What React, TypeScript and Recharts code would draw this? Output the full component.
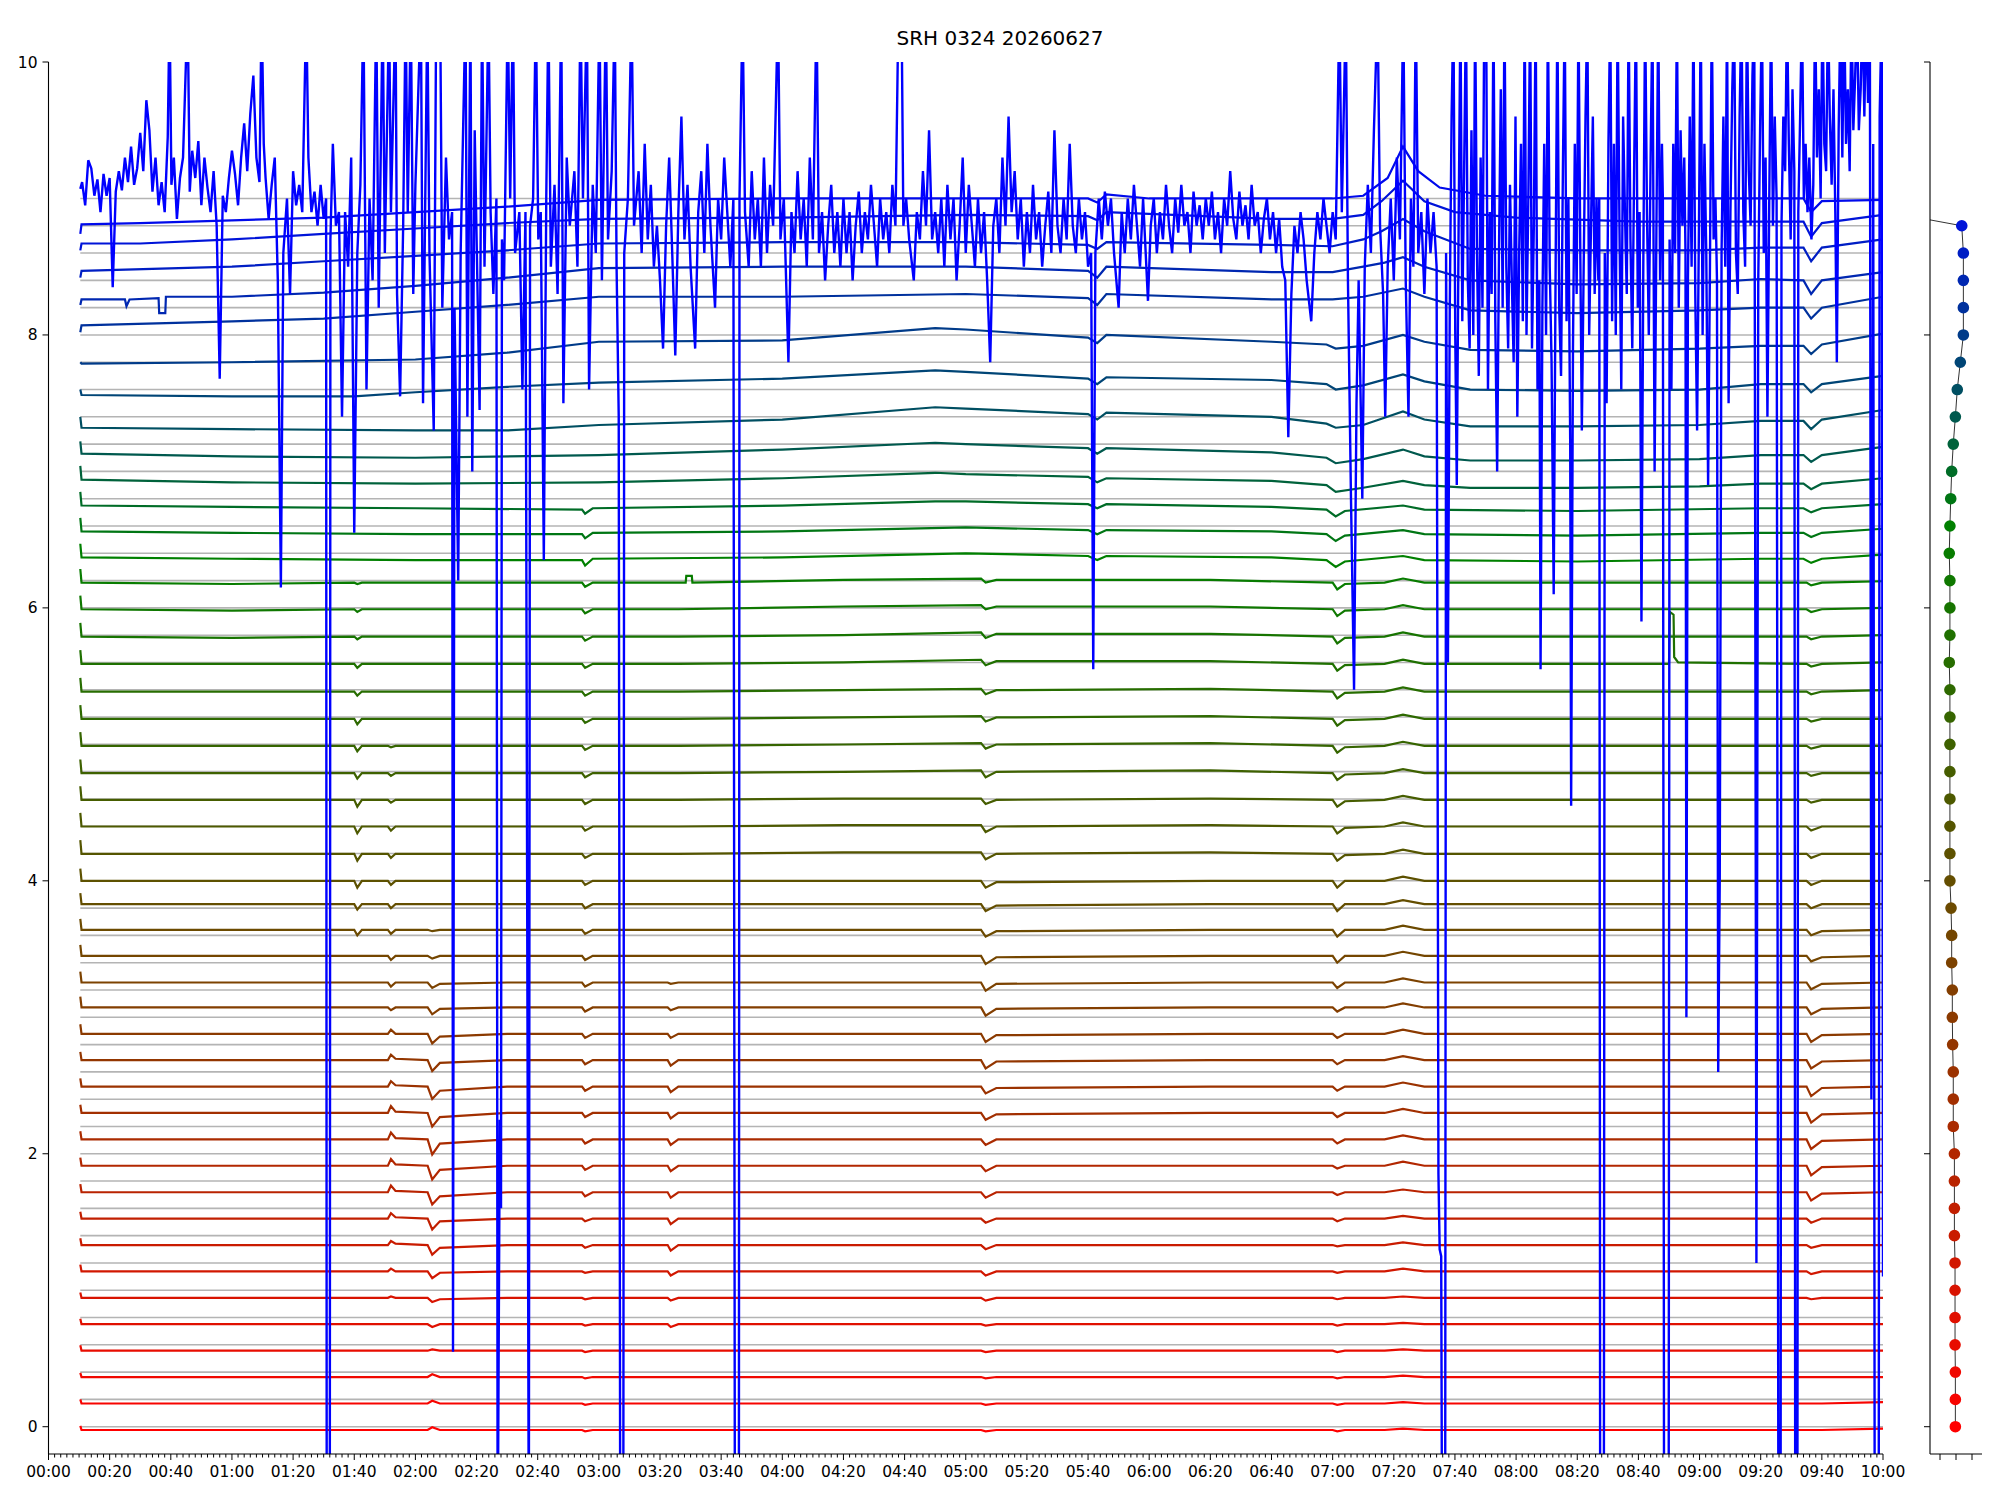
import React from 'react';
import { LineChart, Line, XAxis, YAxis, ReferenceLine, ComposedChart, Scatter, Cell, ZAxis } from 'recharts';

const FONT = '"DejaVu Sans", sans-serif';
const TITLE = 'SRH 0324 20260627';

const MAJOR_TICKS = [0, 20, 40, 60, 80, 100, 120, 140, 160, 180, 200, 220, 240, 260, 280, 300, 320, 340, 360, 380, 400, 420, 440, 460, 480, 500, 520, 540, 560, 580, 600];
const MAJOR_LABELS = ['00:00', '00:20', '00:40', '01:00', '01:20', '01:40', '02:00', '02:20', '02:40', '03:00', '03:20', '03:40', '04:00', '04:20', '04:40', '05:00', '05:20', '05:40', '06:00', '06:20', '06:40', '07:00', '07:20', '07:40', '08:00', '08:20', '08:40', '09:00', '09:20', '09:40', '10:00'];
const Y_TICKS = [0, 2, 4, 6, 8, 10];
const GRID_LEVELS = [0, 0.2, 0.4, 0.6, 0.8, 1.0, 1.2, 1.4, 1.6, 1.8, 2.0, 2.2, 2.4, 2.6, 2.8, 3.0, 3.2, 3.4, 3.6, 3.8, 4.0, 4.2, 4.4, 4.6, 4.8, 5.0, 5.2, 5.4, 5.6, 5.8, 6.0, 6.2, 6.4, 6.6, 6.8, 7.0, 7.2, 7.4, 7.6, 7.8, 8.0, 8.2, 8.4, 8.6, 8.8, 9.0];
const GRID_START = 10.4;
const GRID_END = 600;

// shared knot times (minutes) for the lower traces
const KNOTS = [10.4, 10.8, 60, 100, 101, 102.5, 111, 112, 113.5, 124, 125.5, 128, 150, 174.5, 175.5, 178, 202.5, 203.5, 206, 260, 305, 306.5, 310, 380, 420, 421.5, 424, 437, 443, 450, 500, 575, 576.5, 580, 600];
// level of each lower trace
const LOWER_BASE = [-0.024, 0.17, 0.364, 0.557, 0.751, 0.944, 1.138, 1.331, 1.525, 1.718, 1.912, 2.105, 2.299, 2.492, 2.686, 2.879, 3.072, 3.255, 3.45, 3.641, 3.829, 4.0, 4.198, 4.398, 4.593, 4.789, 4.989, 5.187, 5.387, 5.59, 5.79, 5.99, 6.185];
// deviations from the level, in hundredths, at each knot
const L00 = [3,0,0,0,0,0,0,0,0,0,2,0,0,0,-1,0,0,0,0,0,0,-1,0,0,0,-1,0,0,1,0,0,0,0,0,1];
const L01 = [3,0,0,0,0,0,0,0,0,0,2,0,0,0,-1,0,0,0,0,0,0,-1,0,0,0,-1,0,0,1,0,0,0,0,0,1];
const L02 = [3,0,0,0,0,0,0,0,0,0,2,0,0,0,-1,0,0,0,0,0,0,-1,0,0,0,-1,0,0,1,0,0,0,0,0,0];
const L03 = [4,0,0,0,0,0,0,0,0,0,1,0,0,0,-1,0,0,0,0,0,0,-1,0,0,0,-1,0,0,1,0,0,0,0,0,0];
const L04 = [4,0,0,0,0,0,0,0,0,0,-2,0,0,0,-1,0,0,-2,0,0,0,-1,0,0,0,-1,0,0,1,0,0,0,0,0,0];
const L05 = [4,0,0,0,0,0,0,1,0,0,-3,-1,0,0,-1,0,0,-2,0,0,0,-2,0,0,0,-1,0,0,1,0,0,0,-1,0,0];
const L06 = [5,0,0,0,0,0,0,2,0,0,-5,-1,0,0,-1,0,0,-3,0,0,0,-3,0,0,0,-1,0,0,2,0,0,0,-2,0,0];
const L07 = [5,0,0,0,0,0,0,3,1,0,-7,-2,0,0,-2,0,0,-4,0,0,0,-3,0,0,0,-1,0,0,2,0,0,0,-2,0,0];
const L08 = [5,0,0,0,0,0,0,4,1,0,-8,-2,0,0,-2,0,0,-4,0,0,0,-3,0,0,0,-2,0,0,2,0,0,0,-3,0,0];
const L09 = [6,0,0,0,0,0,0,5,1,0,-9,-3,0,0,-3,0,0,-4,0,0,0,-4,0,0,0,-2,0,0,2,0,0,0,-6,-1,0];
const L10 = [6,0,0,0,0,0,0,5,1,0,-10,-3,0,0,-3,0,0,-4,0,0,0,-4,0,0,0,-2,0,0,3,0,0,0,-7,-1,0];
const L11 = [6,0,0,0,0,0,0,5,1,0,-11,-3,0,0,-3,0,0,-4,0,0,0,-4,0,0,0,-3,0,0,3,0,0,0,-7,-1,0];
const L12 = [6,0,0,0,0,0,0,5,1,0,-10,-3,0,0,-3,0,0,-4,0,0,0,-5,-1,0,0,-3,0,0,3,0,0,0,-7,-1,0];
const L13 = [6,0,0,0,0,0,0,4,1,0,-9,-3,0,0,-3,0,0,-4,0,0,0,-5,-1,0,0,-3,0,0,3,0,0,0,-7,-1,0];
const L14 = [6,0,0,0,0,0,0,4,1,0,-8,-2,0,0,-3,0,0,-4,0,0,0,-6,-1,0,0,-3,0,0,3,0,0,0,-6,-1,0];
const L15 = [7,0,0,0,0,0,0,3,0,0,-7,-2,0,0,-3,0,0,-3,0,0,0,-6,-1,0,0,-3,0,0,3,0,0,0,-6,-1,0];
const L16 = [8,0,0,0,0,0,0,-2,0,0,-5,-1,0,0,-3,0,0,-2,0,0,0,-6,-1,0,0,-3,0,0,3,0,0,0,-5,-1,0];
const L17 = [8,0,0,0,0,0,0,-3,0,0,-4,-1,0,0,-3,0,0,-1,0,0,0,-6,-1,0,0,-4,0,0,3,0,0,0,-5,-1,0];
const L18 = [8,0,0,0,0,0,0,-3,0,0,-2,0,0,0,-3,0,0,0,0,0,0,-6,-1,0,0,-5,0,0,3,0,0,0,-4,-1,0];
const L19 = [8,0,0,0,-4,0,0,-3,0,0,-1,0,0,0,-3,0,0,0,0,0,0,-5,-1,0,0,-5,0,0,3,0,0,0,-4,-1,0];
const L20 = [8,0,0,0,-4,0,0,-3,0,0,0,0,0,0,-3,0,0,0,0,0,0,-5,-1,0,0,-5,0,0,3,0,0,0,-3,0,0];
const L21 = [9,0,0,0,-5,0,0,-3,0,0,0,0,0,0,-3,0,0,0,0,0,0,-5,-1,0,0,-5,0,0,3,0,0,0,-3,0,0];
const L22 = [10,0,0,0,-5,0,0,-3,0,0,0,0,0,0,-3,0,0,0,0,1,1,-4,0,1,0,-5,-1,0,3,0,0,0,-3,0,0];
const L23 = [10,0,0,0,-5,0,0,-3,0,0,0,0,0,0,-3,0,0,0,0,1,1,-4,0,1,0,-5,-1,0,3,0,0,0,-3,0,0];
const L24 = [10,0,0,0,-5,0,0,-2,0,0,0,0,0,0,-3,0,0,0,0,1,1,-3,0,1,0,-5,-1,0,3,0,0,0,-2,0,0];
const L25 = [10,0,0,0,-4,0,0,-2,0,0,0,0,0,0,-3,0,0,0,0,1,2,-3,1,2,0,-5,-1,0,3,0,0,0,-2,0,0];
const L26 = [10,0,0,0,-4,0,0,-1,0,0,0,0,0,0,-3,0,0,0,0,1,2,-2,1,2,0,-5,-1,0,3,0,0,0,-2,0,0];
const L27 = [10,0,0,0,-4,0,0,0,0,0,0,0,0,0,-3,0,0,0,0,1,2,-2,1,2,0,-5,-1,0,3,0,0,0,-2,0,0];
const L28 = [10,0,0,0,-3,0,0,0,0,0,0,0,0,0,-3,0,0,0,0,1,2,-2,1,2,0,-5,-1,0,3,0,0,0,-2,0,1];
const L29 = [10,0,0,0,-3,0,0,0,0,0,0,0,0,0,-3,0,0,0,0,1,3,-1,2,2,0,-5,-1,0,3,0,0,0,-2,0,1];
const L30 = [10,0,-1,0,-2,0,0,0,0,0,0,0,0,0,-3,0,0,0,0,1,3,-1,2,2,0,-5,-1,0,3,0,0,0,-2,0,1];
const L31 = [10,0,-1,0,-2,0,0,0,0,0,0,0,0,0,-3,0,0,0,0,2,3,0,2,2,0,-5,-1,0,3,0,0,0,-2,0,1];
const L32 = [10,0,-1,0,-1,0,0,0,0,0,0,0,0,0,-3,0,0,0,0,2,3,0,2,2,0,-5,-1,0,3,0,0,0,-2,0,1];
const LOWER_ROWS = [L00, L01, L02, L03, L04, L05, L06, L07, L08, L09, L10, L11, L12, L13, L14, L15, L16, L17, L18, L19, L20, L21, L22, L23, L24, L25, L26, L27, L28, L29, L30, L31, L32];

// extra points (minute, value) on two green traces
const EXTRA_29 = [530.0, 5.59, 530.3, 5.97, 531.5, 5.95, 531.7, 5.64, 533.0, 5.6];
const EXTRA_32 = [208.4, 6.185, 208.6, 6.235, 210.4, 6.235, 210.6, 6.185];

// upper traces (minute, value)
const U33 = [10.4,6.47, 10.8,6.37, 60,6.36, 120,6.35, 174.5,6.35, 175.5,6.31, 178,6.36, 240,6.37, 300,6.4, 340,6.38, 343,6.35, 346,6.38, 400,6.37, 418,6.35, 421,6.3, 424,6.34, 443,6.38, 450,6.35, 500,6.34, 560,6.36, 574,6.36, 576.5,6.33, 580,6.36, 600,6.39];
const U34 = [10.4,6.66, 10.8,6.56, 60,6.55, 120,6.54, 174.5,6.54, 175.5,6.51, 178,6.55, 240,6.56, 300,6.59, 340,6.57, 343,6.54, 346,6.57, 400,6.56, 418,6.54, 421,6.49, 424,6.53, 443,6.57, 450,6.54, 500,6.53, 560,6.55, 574,6.55, 576.5,6.52, 580,6.55, 600,6.58];
const U35 = [10.4,6.85, 10.8,6.75, 60,6.74, 120,6.73, 174.5,6.72, 175.5,6.69, 178,6.73, 240,6.75, 290,6.78, 300,6.78, 340,6.76, 343,6.73, 346,6.76, 400,6.74, 418,6.72, 421,6.67, 424,6.71, 443,6.75, 450,6.72, 500,6.71, 560,6.73, 574,6.73, 576.5,6.7, 580,6.73, 600,6.76];
const U36 = [10.4,7.04, 10.8,6.94, 60,6.92, 120,6.91, 180,6.92, 240,6.95, 290,6.99, 300,6.98, 340,6.96, 343,6.92, 346,6.95, 400,6.93, 418,6.9, 421,6.85, 430,6.88, 443,6.93, 450,6.9, 465,6.88, 500,6.88, 540,6.89, 560,6.91, 574,6.91, 576.5,6.87, 580,6.91, 600,6.95];
const U37 = [10.4,7.22, 10.8,7.13, 60,7.11, 120,7.1, 180,7.12, 240,7.16, 290,7.21, 300,7.2, 340,7.17, 343,7.13, 346,7.17, 400,7.14, 418,7.1, 421,7.06, 430,7.09, 443,7.16, 450,7.11, 465,7.08, 500,7.08, 540,7.09, 560,7.12, 574,7.12, 576.5,7.07, 580,7.12, 600,7.18];
const U38 = [10.4,7.4, 10.8,7.32, 60,7.31, 120,7.3, 150,7.3, 180,7.34, 240,7.38, 290,7.47, 300,7.46, 340,7.42, 343,7.38, 346,7.43, 400,7.4, 418,7.35, 421,7.32, 430,7.34, 443,7.44, 450,7.38, 465,7.33, 500,7.33, 540,7.34, 560,7.37, 574,7.37, 576.5,7.31, 580,7.38, 600,7.45];
const U39 = [10.4,7.6, 10.8,7.56, 60,7.55, 100,7.55, 120,7.58, 150,7.62, 180,7.65, 240,7.68, 290,7.74, 300,7.73, 340,7.68, 343,7.64, 346,7.69, 400,7.67, 418,7.64, 421,7.6, 430,7.63, 443,7.71, 450,7.66, 465,7.6, 500,7.59, 540,7.6, 560,7.64, 574,7.64, 576.5,7.58, 580,7.64, 600,7.7];
const U40 = [10.4,7.8, 10.8,7.79, 60,7.8, 120,7.82, 150,7.87, 180,7.95, 240,7.96, 290,8.05, 300,8.04, 340,7.98, 343,7.94, 346,8.0, 400,7.95, 418,7.93, 421,7.9, 430,7.92, 443,8.0, 450,7.95, 465,7.89, 500,7.88, 540,7.9, 560,7.92, 574,7.92, 576.5,7.86, 580,7.93, 600,8.01];
const U41 = [10.4,8.02, 10.8,8.07, 60,8.1, 90,8.12, 120,8.17, 150,8.22, 180,8.28, 240,8.28, 300,8.3, 340,8.27, 343,8.22, 346,8.3, 400,8.26, 420,8.26, 430,8.28, 443,8.34, 450,8.28, 465,8.18, 500,8.16, 540,8.18, 560,8.2, 574,8.2, 576.5,8.12, 580,8.2, 600,8.28];
const U42 = [10.4,8.22, 10.8,8.26, 25,8.26, 25.5,8.21, 26.5,8.26, 36,8.27, 36.2,8.16, 38.2,8.16, 38.4,8.28, 60,8.28, 90,8.31, 120,8.36, 150,8.42, 180,8.49, 240,8.5, 300,8.5, 340,8.47, 343,8.42, 346,8.5, 400,8.46, 420,8.46, 430,8.5, 437,8.53, 443,8.57, 450,8.5, 465,8.4, 500,8.37, 540,8.38, 560,8.41, 574,8.4, 576.5,8.3, 580,8.4, 600,8.46];
const U43 = [10.4,8.42, 10.8,8.47, 60,8.5, 90,8.54, 120,8.58, 150,8.62, 180,8.67, 240,8.68, 300,8.68, 340,8.66, 343,8.63, 346,8.68, 400,8.66, 420,8.65, 430,8.7, 436,8.76, 443,8.85, 450,8.76, 465,8.63, 500,8.62, 540,8.62, 560,8.64, 574,8.64, 576.5,8.54, 580,8.64, 600,8.7];
const U44 = [10.4,8.62, 10.8,8.67, 30,8.67, 60,8.7, 90,8.74, 120,8.78, 150,8.82, 180,8.85, 240,8.86, 300,8.88, 340,8.87, 343,8.84, 346,8.9, 400,8.85, 420,8.85, 430,8.88, 436,8.98, 443,9.13, 450,8.98, 460,8.9, 480,8.86, 520,8.83, 560,8.83, 574,8.83, 576.5,8.72, 580,8.82, 600,8.88];
const U45 = [10.4,8.74, 10.8,8.81, 30,8.82, 60,8.84, 90,8.86, 120,8.9, 150,8.94, 180,8.99, 240,9.0, 300,9.0, 340,9.0, 343,8.97, 346,9.03, 360,9.0, 420,9.0, 430,9.02, 438,9.15, 443,9.38, 448,9.2, 455,9.08, 470,9.02, 500,9.0, 540,9.0, 574,9.0, 576.5,8.9, 580,8.98, 600,8.99];

// the noisy top trace (minute, value)
const NOISY = [
10.4,9.07, 11,9.12, 12,8.95, 13,9.28, 14,9.22, 15,9.02, 16,9.14, 17,8.9, 18,9.18, 19,9.02, 20,9.15, 21,8.35, 22,9.05, 23,9.2, 24,9.06, 25,9.3, 26,9.12, 27,9.38, 28,9.1, 29,9.22, 30,9.48, 31,9.2, 32,9.72, 33,9.5, 34,9.05, 35,9.3, 36,8.95, 37,9.12, 38,8.9, 39,9.45, 39.6,10.4, 40.2,9.1, 41,9.3, 42,8.85, 43,9.15, 44,9.3, 45.5,10.4, 46.2,9.05, 47,9.35, 48,9.15, 49,9.42, 50,8.95, 51,9.3, 52,9.08, 53,8.9, 54,9.2, 55,8.8, 56,7.68, 57,9.02, 58,8.9, 59,9.15, 60,9.35, 61,9.18, 62,8.95, 63,9.3, 64,9.55, 65,9.2, 66,9.62, 67,9.9, 68,9.3, 69,9.12, 69.7,10.4, 70.4,9.4, 71,9.15, 72,8.85, 73,9.1, 74,9.3, 75,8.4, 76,6.15, 76.8,8.6, 78,9.0, 79,8.3, 80,9.2, 81,8.95, 82,9.1, 83,8.9, 84.3,10.4, 85,9.3, 86,8.9, 87,9.05, 88,8.8, 89,9.1, 90,8.85, 90.8,9.0, 91,-1, 92,-1, 92.2,8.7, 93,9.4, 94,8.8, 95,8.9, 96,7.4, 97,8.9, 98,8.5, 99,9.3, 100,6.55, 101,8.6, 102,9.1, 103,10.4, 104,7.6, 105,9.0, 106,8.4, 107.2,10.4, 108,8.2, 109.3,10.4, 110,8.6, 111.4,10.4, 112,8.9, 113.5,10.4, 114,8.3, 115,7.55, 116,8.8, 116.8,10.4, 117.5,8.9, 118.5,10.4, 119.3,8.3, 120,9.1, 121.8,10.4, 122.5,7.5, 123.9,10.4, 124.6,8.6, 126,7.3, 126.8,10.4, 128.1,10.4, 128.8,8.2, 130,9.3, 131,8.7, 132,8.9, 132.3,0.55, 132.8,8.2, 134,6.2, 134.8,8.6, 136.4,10.4, 137,7.4, 138,10.4, 138.6,7.0, 139.4,9.5, 141,7.45, 141.8,10.4, 142.6,8.5, 143.9,10.4, 144.6,8.9, 145.5,8.3, 146.5,9.0, 146.9,-1, 147.6,2.25, 148,1.6, 148.3,8.7, 149,8.4, 150.2,10.4, 151,9.0, 151.9,10.4, 152.6,8.6, 154,8.9, 155,7.6, 156,8.9, 157.1,-1, 157.5,8.8, 158.5,9.0, 159.4,10.4, 160.2,8.7, 161,8.9, 162,6.35, 162.8,9.0, 163.5,10.4, 164.3,8.5, 165.5,9.1, 166.5,8.3, 167.7,10.4, 168.4,7.5, 169.5,9.3, 170.5,8.8, 172,9.2, 173,8.5, 174,10.4, 174.8,9.0, 176.1,10.4, 176.8,7.6, 178,9.1, 179,8.6, 180.2,10.4, 181,8.4, 182.3,10.4, 183,8.7, 184.2,9.2, 185.2,10.4, 185.8,8.5, 186.5,7.4, 187,-1, 188,-1, 188.3,8.6, 189.5,9.0, 190.7,10.4, 191.5,8.8, 193,9.2, 194,8.6, 195,9.4, 196,8.7, 197,9.1, 198,8.5, 199,8.8, 200,8.4, 201,7.9, 202,8.8, 203,9.3, 204,8.6, 205,7.85, 206,8.9, 207,9.6, 208,8.7, 209,9.1, 210,8.5, 211.5,7.9, 212.5,8.9, 213.5,9.2, 214.5,8.6, 215.5,9.4, 216.5,8.8, 218,8.2, 219,9.0, 220,8.7, 221,9.3, 222,8.9, 223,8.5, 224,9.0, 224.5,-1, 225.8,-1, 226,9.0, 227,10.4, 227.8,8.9, 229,8.5, 230,9.2, 231,8.7, 232,9.0, 233,8.5, 234,9.3, 235,8.6, 236,9.1, 237,8.8, 238.6,10.4, 239.4,8.7, 240.5,9.0, 242,7.8, 243,8.9, 244,8.6, 245,9.2, 246,8.7, 247,9.0, 248,8.5, 249,9.3, 250,8.7, 251.2,10.4, 252,8.6, 253,8.9, 254,8.4, 255,8.8, 256,9.1, 257,8.6, 258,8.9, 259,8.5, 260,9.0, 261,8.6, 262,8.9, 263,8.4, 264,8.8, 265,9.05, 266,8.6, 267,8.9, 268,8.7, 269,9.1, 270,8.8, 271,8.5, 272,9.0, 273,8.7, 274,8.9, 275,8.6, 276,9.1, 277,8.8, 278,10.4, 279,10.4, 279.6,8.8, 280.5,9.0, 281.5,8.7, 283,8.4, 284,8.9, 285,8.7, 286,9.2, 287,8.8, 288,9.5, 289,8.7, 290,8.9, 291,8.6, 292,9.0, 293,8.5, 294,9.1, 295,8.7, 296,9.0, 297,8.4, 298,8.8, 299,9.3, 300,8.6, 301,9.1, 302,8.8, 303,8.5, 304,9.0, 305,8.6, 306,8.9, 307,8.4, 308,7.8, 309,8.8, 310,9.0, 311,8.6, 312,9.3, 313,8.8, 314,9.6, 315,8.9, 316,9.2, 317,8.7, 318,9.0, 319,8.5, 320,8.9, 321,8.6, 322,9.1, 323,8.7, 324,8.9, 325,8.5, 326,8.8, 327,9.05, 328,8.6, 329,9.5, 330,8.8, 331,8.6, 332,9.0, 333,8.7, 334,9.4, 335,8.8, 336,8.6, 337,9.0, 338,8.7, 339,8.9, 340,8.5, 341,8.6, 341.7,5.55, 342.4,8.6, 343.5,9.0, 344.5,8.7, 345.5,9.05, 346.5,8.8, 347.5,9.0, 348.5,8.6, 350,8.2, 351,8.9, 352,8.6, 353,9.0, 354,8.7, 355,9.1, 356,8.8, 357,8.5, 358,9.0, 359.6,8.25, 360.5,8.8, 361.5,9.0, 362.5,8.6, 363.5,8.9, 364.5,8.7, 365.5,9.1, 366.5,8.8, 367.5,8.6, 368.5,9.0, 369.5,8.75, 370.5,9.1, 371.5,8.8, 372.5,8.9, 373.5,8.6, 374.5,9.05, 375.5,8.8, 376.5,8.95, 377.5,8.7, 378.5,9.0, 379.5,8.8, 380.5,9.05, 381.5,8.7, 382.5,8.9, 383.5,8.6, 384.5,9.0, 385.5,8.8, 386.5,9.2, 387.5,8.85, 388.5,8.7, 389.5,9.05, 390.5,8.8, 391.5,8.95, 392.5,8.7, 393.5,9.1, 394.5,8.8, 395.5,8.9, 396.5,8.6, 397.5,8.85, 398.5,9.0, 399.5,8.7, 400.5,8.9, 401.5,8.6, 402.5,8.85, 403.5,8.5, 404.5,8.4, 405.5,7.25, 406.5,8.3, 407.5,8.8, 408.5,8.6, 409.5,8.9, 410.5,8.7, 411.5,8.4, 413,8.1, 414,8.6, 415,8.9, 416,8.7, 417,9.0, 418,8.8, 419,8.6, 420,8.9, 421,8.7, 422.2,10.4, 423,8.9, 424.3,10.4, 425,8.4, 426,6.8, 427,5.4, 427.8,7.5, 428.5,8.4, 429.7,6.8, 430.5,8.5, 431.5,9.1, 432.5,8.6, 433.5,9.5, 434.7,10.4, 435.5,8.8, 436.5,8.3, 437.2,7.4, 438,8.5, 439,9.0, 440,8.4, 441,9.3, 442,8.7, 443.1,10.4, 443.9,8.4, 444.8,7.4, 445.6,9.0, 446.4,8.5, 447.2,10.4, 448,8.6, 449,8.9, 450,8.3, 451,9.0, 452,8.6, 453,8.9, 454,8.5, 454.6,1.85, 455,1.3, 455.5,1.25, 455.8,-1, 456.8,-1,
457.1,8.6, 457.7,5.6, 458.3,8.2, 458.9,9.6, 459.5,10.4, 460.1,8.0, 460.6,6.9, 461.2,8.8, 461.8,10.4, 462.4,8.1, 463,9.2, 463.6,10.4, 464.2,8.4, 464.8,7.9, 465.4,9.5, 466,8.0, 466.6,10.4, 467.2,8.6, 467.8,7.7, 468.4,9.3, 469,8.2, 469.6,10.4, 470.2,10.4, 470.8,7.6, 471.4,8.9, 472,8.3, 472.6,10.4, 473.2,8.1, 473.8,7.0, 474.4,8.6, 475,9.8, 475.6,8.2, 476.2,10.4, 476.8,8.5, 477.4,7.9, 478,9.1, 478.6,8.4, 479.2,7.8, 479.8,9.6, 480.4,7.4, 481,8.6, 481.6,9.4, 482.2,8.1, 482.8,10.4, 483.4,8.0, 484,9.0, 484.6,10.4, 485.2,7.9, 485.8,8.8, 486.4,10.4, 487,7.6, 487.6,8.4, 488,5.55, 488.6,8.2, 489.2,9.4, 489.8,8.0, 490.4,10.4, 491,8.5, 491.6,7.8, 492.3,6.1, 492.9,8.4, 493.5,10.4, 494.1,8.2, 494.7,7.7, 495.3,9.2, 495.9,10.4, 496.5,8.1, 497.1,9.0, 497.7,7.2, 498,4.55, 498.6,7.9, 499.2,9.4, 499.8,8.3, 500.4,10.4, 501,8.6, 501.5,7.3, 502.1,8.5, 502.7,9.6, 503.3,10.4, 503.9,8.0, 504.5,8.8, 505.1,9.6, 505.7,8.3, 506.3,9.0, 506.9,8.4, 507.2,9.0, 507.5,-1, 508.7,-1, 509,8.6, 509.6,7.5, 510.2,9.4, 510.8,10.4, 511.4,8.1, 512,9.4, 512.6,8.0, 513.2,10.4, 513.8,8.8, 514.4,7.6, 515,9.6, 515.6,8.9, 516.2,8.3, 516.8,10.4, 517.4,8.7, 518,7.9, 518.6,9.2, 519.2,10.4, 519.8,8.2, 520.4,8.9, 521,5.9, 521.6,8.5, 522.2,10.4, 522.8,8.9, 523.4,8.0, 524,9.3, 524.6,10.4, 525.3,7.0, 525.9,8.8, 526.5,10.4, 527.1,8.4, 527.7,9.4, 528,9.0, 528.4,-1, 529.9,-1, 530.2,8.7, 530.8,7.6, 531.4,9.4, 532,8.6, 532.6,10.4, 533.2,8.2, 533.8,9.5, 534.4,8.8, 535,9.3, 535.4,8.6, 535.7,3.0, 536.2,8.4, 536.8,9.6, 537.4,8.5, 538,10.4, 538.6,8.3, 539.2,7.3, 539.8,8.8, 540.4,10.4, 541,8.0, 541.6,9.4, 542.2,8.6, 542.8,6.9, 543.4,8.5, 544,10.4, 544.6,8.7, 545.2,9.0, 545.7,8.4, 546.1,2.6, 546.6,4.0, 547.2,8.6, 547.8,9.6, 548.4,8.5, 549,10.4, 549.5,7.5, 550.1,8.9, 550.7,9.8, 551.3,10.4, 551.9,8.6, 552.5,8.3, 553.1,9.6, 553.7,10.4, 554.3,8.9, 554.9,8.5, 555.5,10.4, 556.1,9.2, 556.7,8.8, 557.3,9.9, 557.9,10.4, 558.6,1.2, 559.2,8.4, 559.8,9.5, 560.4,10.4, 561,8.6, 561.6,9.3, 562.2,7.4, 562.8,9.0, 563.4,10.4, 564,8.8, 564.6,9.6, 565.2,9.0, 565.8,-1, 566.5,-1, 566.8,8.8, 567.4,9.6, 568,9.2, 568.6,10.4, 569.2,9.4, 569.8,8.7, 570.4,9.8, 571,9.2, 571.3,-1, 572,-1, 572.3,8.9, 572.9,9.6, 573.5,10.4, 574.1,9.0, 574.7,9.4, 575.3,8.9, 575.9,9.3, 576.6,8.7, 577.2,9.1, 577.8,10.4, 578.4,9.3, 579,9.8, 579.6,9.0, 580.2,10.4, 580.8,9.4, 581.4,9.2, 582,10.4, 582.6,9.6, 583.2,9.1, 583.8,9.8, 584.4,8.9, 584.9,7.8, 585.5,9.5, 586.1,10.4, 586.7,9.3, 587.3,10.4, 587.9,9.4, 588.5,9.8, 589.1,9.2, 589.7,10.4, 590.3,9.5, 590.9,9.9, 591.5,10.4, 592.1,9.5, 592.7,9.8, 593.3,10.4, 593.9,9.6, 594.5,10.4, 595.1,9.7, 595.7,10.4, 596.2,2.4, 596.8,9.4, 597.3,-1, 598.6,-1, 598.9,9.6, 599.6,10.4, 600,1.1
];

// right panel: one point per level
const DOT_LEVELS = [0, 0.2, 0.4, 0.6, 0.8, 1.0, 1.2, 1.4, 1.6, 1.8, 2.0, 2.2, 2.4, 2.6, 2.8, 3.0, 3.2, 3.4, 3.6, 3.8, 4.0, 4.2, 4.4, 4.6, 4.8, 5.0, 5.2, 5.4, 5.6, 5.8, 6.0, 6.2, 6.4, 6.6, 6.8, 7.0, 7.2, 7.4, 7.6, 7.8, 8.0, 8.2, 8.4, 8.6, 8.8];
const DOT_X = [0.96, 0.96, 0.96, 0.94, 0.94, 0.94, 0.94, 0.9, 0.9, 0.9, 0.9, 0.83, 0.83, 0.83, 0.79, 0.77, 0.77, 0.73, 0.73, 0.69, 0.62, 0.62, 0.62, 0.62, 0.62, 0.62, 0.62, 0.62, 0.58, 0.62, 0.62, 0.62, 0.58, 0.62, 0.67, 0.73, 0.83, 0.96, 1.08, 1.27, 1.46, 1.46, 1.46, 1.46, 1.36];
const TAIL_X = -7.85;
const TAIL_Y = 9.0;

// ---------- style ----------
const COLOR_ANCHORS = [
  { i: 0, c: [255, 0, 0] },
  { i: 33, c: [0, 128, 0] },
  { i: 46, c: [0, 0, 255] },
];
const colorAt = (i) => {
  for (let k = 0; k < COLOR_ANCHORS.length - 1; k++) {
    const a = COLOR_ANCHORS[k];
    const b = COLOR_ANCHORS[k + 1];
    if (i >= a.i && i <= b.i) {
      const f = (i - a.i) / (b.i - a.i);
      const ch = a.c.map((v, j) => Math.round(v + (b.c[j] - v) * f));
      return `rgb(${ch[0]},${ch[1]},${ch[2]})`;
    }
  }
  return 'rgb(0,0,255)';
};

// ---------- build series ----------
const pairs = (arr) => {
  const out = [];
  for (let k = 0; k + 1 < arr.length; k += 2) out.push({ t: arr[k], v: arr[k + 1] });
  return out;
};
const EXTRAS = { 29: EXTRA_29, 32: EXTRA_32 };
const lowerSeries = LOWER_ROWS.map((row, i) => {
  const pts = KNOTS.map((t, k) => ({ t, v: LOWER_BASE[i] + row[k] / 100 }));
  if (EXTRAS[i]) {
    pts.push(...pairs(EXTRAS[i]));
    pts.sort((a, b) => a.t - b.t);
  }
  return pts;
});
const upperSeries = [U33, U34, U35, U36, U37, U38, U39, U40, U41, U42, U43, U44, U45].map(pairs);
const ALL_SERIES = [...lowerSeries, ...upperSeries, pairs(NOISY)];
const NOISY_INDEX = ALL_SERIES.length - 1;

const ALL_X_TICKS = [];
for (let m = 0; m <= 600; m += 2) ALL_X_TICKS.push(m);

const dots = DOT_LEVELS.map((y, k) => ({ x: DOT_X[k], y }));
const chain = [{ x: TAIL_X, y: TAIL_Y }, ...dots.slice().reverse()];

const XTick = (props) => {
  const { x, y, payload } = props;
  const idx = MAJOR_TICKS.indexOf(payload.value);
  const major = idx >= 0;
  return (
    <g>
      <line x1={x} x2={x} y1={y} y2={y + (major ? 6 : 3.5)} stroke="#000" strokeWidth={1} />
      {major ? (
        <text x={x} y={y + 22.5} textAnchor="middle" fontSize={15.5} fontFamily={FONT} fill="#000">
          {MAJOR_LABELS[idx]}
        </text>
      ) : null}
    </g>
  );
};

const AXIS_LINE = { stroke: '#000', strokeWidth: 1.1 };

export default function App() {
  return (
    <div style={{ position: 'absolute', left: 0, top: 0, width: 2000, height: 1500, background: '#fff', fontFamily: FONT }}>
      <div style={{ position: 'absolute', left: 0, top: 27, width: 2000, textAlign: 'center', fontSize: 20, lineHeight: '22px', color: '#000' }}>
        {TITLE}
      </div>
      <div style={{ position: 'absolute', left: 0, top: 0 }}>
        <LineChart width={1930} height={1500} margin={{ top: 62, right: 47, bottom: 0, left: 0 }}>
          <XAxis
            dataKey="t"
            type="number"
            domain={[0, 600]}
            allowDataOverflow
            ticks={ALL_X_TICKS}
            interval={0}
            tickLine={false}
            tickSize={0}
            tickMargin={0}
            tick={<XTick />}
            height={46}
            axisLine={AXIS_LINE}
          />
          <XAxis xAxisId="top" orientation="top" type="number" domain={[0, 600]} height={0} tick={false} tickLine={false} axisLine={AXIS_LINE} />
          <YAxis
            type="number"
            domain={[-0.2, 10]}
            allowDataOverflow
            ticks={Y_TICKS}
            width={48.5}
            tickSize={6}
            tickMargin={5}
            tick={{ fill: '#000', fontSize: 15.5, fontFamily: FONT }}
            tickLine={{ stroke: '#000' }}
            axisLine={AXIS_LINE}
          />
          <YAxis yAxisId="right" orientation="right" type="number" domain={[-0.2, 10]} width={0} tick={false} tickLine={false} axisLine={AXIS_LINE} />
          {GRID_LEVELS.map((L) => (
            <ReferenceLine
              key={'g' + L}
              segment={[{ x: GRID_START, y: L }, { x: GRID_END, y: L }]}
              stroke="#b4b4b4"
              strokeWidth={1.6}
            />
          ))}
          {ALL_SERIES.map((d, i) => (
            <Line
              key={'s' + i}
              data={d}
              dataKey="v"
              type="linear"
              stroke={colorAt(i)}
              strokeWidth={i === NOISY_INDEX ? 2.4 : 2.2}
              dot={false}
              activeDot={false}
              isAnimationActive={false}
            />
          ))}
        </LineChart>
      </div>
      <div style={{ position: 'absolute', left: 1920, top: 0 }}>
        <ComposedChart width={72} height={1500} margin={{ top: 62, right: 10, bottom: 0, left: 0 }}>
          <XAxis
            dataKey="x"
            type="number"
            domain={[-0.625, 2.625]}
            allowDataOverflow
            ticks={[0, 1, 2]}
            tickFormatter={() => ''}
            tickSize={6}
            height={46}
            tickLine={{ stroke: '#000' }}
            axisLine={AXIS_LINE}
          />
          <XAxis xAxisId="top" orientation="top" type="number" domain={[-0.625, 2.625]} height={0} tick={false} tickLine={false} axisLine={AXIS_LINE} />
          <YAxis
            dataKey="y"
            type="number"
            domain={[-0.2, 10]}
            allowDataOverflow
            ticks={Y_TICKS}
            tickFormatter={() => ''}
            width={10}
            tickSize={6}
            tickLine={{ stroke: '#000' }}
            axisLine={AXIS_LINE}
          />
          <YAxis yAxisId="right" orientation="right" type="number" domain={[-0.2, 10]} width={0} tick={false} tickLine={false} axisLine={AXIS_LINE} />
          <ZAxis type="number" range={[106, 106]} />
          <Scatter data={dots} isAnimationActive={false}>
            {dots.map((d, k) => (
              <Cell key={'c' + k} fill={colorAt(k)} />
            ))}
          </Scatter>
          <Line data={chain} dataKey="y" type="linear" stroke="#333" strokeWidth={1} dot={false} activeDot={false} isAnimationActive={false} />
        </ComposedChart>
      </div>
    </div>
  );
}
